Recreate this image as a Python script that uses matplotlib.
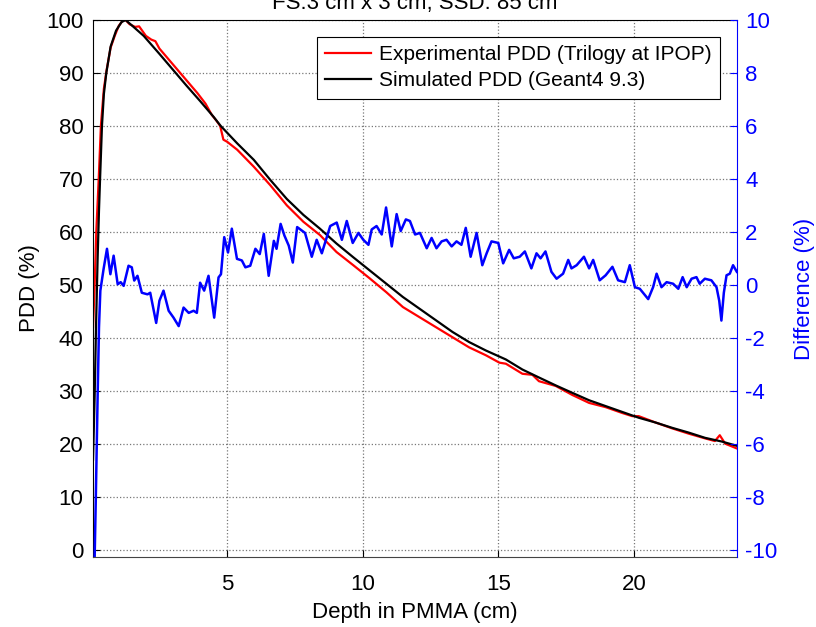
import matplotlib
matplotlib.use("Agg")
from matplotlib import pyplot as plt

plt.rcParams['font.family'] = ['Liberation Sans', 'DejaVu Sans']
plt.rcParams['axes.unicode_minus'] = False

# simulated PDD (Geant4)
sim_depth = [0.05, 0.11, 0.16, 0.22, 0.27, 0.31, 0.38, 0.45, 0.54, 0.7, 0.9, 1.1, 1.25,
             1.5, 1.92, 2.5, 3.0, 3.5, 4.0, 4.5, 4.76, 5.37, 5.98, 6.59, 7.2, 7.81,
             8.42, 9.03, 9.65, 10.26, 10.87, 11.48, 12.09, 12.7, 13.31, 13.92, 14.54,
             15.28, 15.89, 16.5, 17.12, 17.73, 18.35, 18.96, 19.57, 20.18, 20.8,
             21.41, 22.02, 22.63, 23.25, 23.8]
sim_pdd = [17, 29, 42, 55, 64, 70, 80, 86, 90, 95, 98, 99.6, 100,
           98.9, 97.0, 93.6, 90.6, 87.6, 84.7, 81.7, 80.0, 76.7, 73.6, 69.8, 66.2, 63.2,
           60.6, 57.8, 55.2, 52.7, 50.2, 47.7, 45.5, 43.3, 41.1, 39.2, 37.6,
           35.9, 34.0, 32.5, 31.0, 29.6, 28.2, 27.1, 26.0, 24.9, 24.0,
           23.0, 22.1, 21.1, 20.4, 19.6]

# experimental PDD (Trilogy)
exp_depth = [0.05, 0.11, 0.17, 0.26, 0.34, 0.45, 0.55, 0.7, 0.85, 1.0, 1.15, 1.25,
             1.4, 1.6, 1.75, 2.0, 2.2, 2.35, 2.5, 2.8, 3.0, 3.3, 3.6, 3.9, 4.2, 4.43,
             4.6, 4.74, 4.86, 5.0, 5.37, 5.98, 6.59, 7.2, 7.81, 8.42, 9.03, 9.65, 10.26,
             10.87, 11.48, 12.09, 12.7, 13.31, 13.92, 14.54, 15.04, 15.28, 15.89,
             16.26, 16.5, 17.12, 17.73, 18.35, 18.96, 19.57, 19.94, 20.18, 20.8,
             21.41, 22.02, 22.63, 22.99, 23.17, 23.37, 23.8]
exp_pdd = [42, 50, 60, 70, 80, 87, 90.5, 94.8, 97, 98.9, 99.9, 100,
           99.2, 98.7, 98.8, 97.0, 96.3, 96.0, 94.6, 92.8, 91.6, 89.8, 88.0, 86.2, 84.2, 82.1,
           81.0, 80.0, 77.4, 77.0, 75.5, 72.3, 68.8, 65.0, 61.9, 59.4, 56.2, 53.7, 51.2,
           48.6, 45.8, 43.9, 42.0, 40.1, 38.2, 36.7, 35.3, 35.1, 33.2,
           33.0, 31.8, 30.9, 29.2, 27.7, 26.9, 25.8, 25.2, 25.2, 24.0,
           22.9, 21.9, 21.0, 20.5, 21.6, 20.0, 19.1]

# difference (%)
diff_depth = [0.07, 0.11, 0.15, 0.22, 0.27, 0.32, 0.44, 0.565, 0.69, 0.81, 0.96, 1.07,
              1.18, 1.36, 1.48, 1.57, 1.69, 1.85, 2.06, 2.16, 2.38, 2.5, 2.65, 2.84,
              3.02, 3.21, 3.39, 3.58, 3.76, 3.88, 4.0, 4.15, 4.31, 4.52, 4.68, 4.77,
              4.89, 5.03, 5.17, 5.36, 5.54, 5.67, 5.85, 6.04, 6.2, 6.35, 6.53, 6.72,
              6.82, 6.97, 7.11, 7.27, 7.42, 7.58, 7.87, 8.12, 8.3, 8.49, 8.8, 9.04,
              9.23, 9.41, 9.63, 9.84, 10.02, 10.21, 10.33, 10.51, 10.7, 10.86, 11.07,
              11.25, 11.4, 11.59, 11.74, 11.93, 12.11, 12.36, 12.54, 12.72, 12.91,
              13.09, 13.28, 13.46, 13.64, 13.8, 13.98, 14.2, 14.41, 14.57, 14.75,
              15.0, 15.18, 15.4, 15.57, 15.79, 15.98, 16.22, 16.41, 16.56, 16.74,
              16.96, 17.15, 17.39, 17.58, 17.7, 17.89, 18.16, 18.35, 18.5, 18.74,
              18.96, 19.21, 19.42, 19.67, 19.85, 20.04, 20.22, 20.53, 20.71, 20.84,
              21.02, 21.21, 21.45, 21.64, 21.8, 21.95, 22.13, 22.31, 22.43, 22.62,
              22.86, 23.05, 23.15, 23.23, 23.32, 23.42, 23.54, 23.66, 23.8]
diff_val = [-11.0, -10.3, -8.2, -4.2, -1.6, -0.22, 0.6, 1.36, 0.4, 1.1, 0.02, 0.1,
            -0.04, 0.72, 0.66, 0.16, 0.34, -0.3, -0.36, -0.3, -1.44, -0.6, -0.22, -0.98,
            -1.24, -1.56, -0.86, -1.06, -0.98, -1.06, 0.08, -0.22, 0.34, -1.24, 0.28, 0.4,
            1.8, 1.22, 2.12, 0.98, 0.92, 0.66, 0.72, 1.36, 1.16, 1.92, 0.34, 1.66,
            1.36, 2.3, 1.86, 1.48, 0.84, 2.18, 1.96, 1.06, 1.7, 1.19, 2.22, 2.35,
            1.7, 2.41, 1.58, 1.96, 1.7, 1.51, 2.09, 2.22, 1.9, 2.92, 1.45,
            2.67, 2.03, 2.47, 2.41, 1.9, 1.96, 1.38, 1.77, 1.38, 1.64,
            1.7, 1.45, 1.64, 1.51, 2.15, 1.06, 1.96, 0.74, 1.19, 1.64,
            1.58, 0.81, 1.32, 1.0, 1.06, 1.26, 0.62, 1.19, 1.0, 1.26,
            0.49, 0.23, 0.42, 0.94, 0.62, 0.74, 1.06, 0.62, 0.94, 0.17,
            0.36, 0.68, 0.17, 0.1, 0.74, -0.09, -0.15, -0.54, -0.09, 0.42,
            -0.09, 0.1, 0.04, -0.15, 0.29, -0.09, 0.23, 0.29, 0.04, 0.23,
            0.17, -0.09, -0.6, -1.35, -0.3, 0.36, 0.42, 0.74, 0.49]

fig = plt.figure(figsize=(8.16, 6.27), dpi=100)
ax = fig.add_axes([0.114, 0.1116, 0.789, 0.8565])
ax2 = ax.twinx()

ax.plot(exp_depth, exp_pdd, color='red', lw=1.6, label='Experimental PDD (Trilogy at IPOP)')
ax.plot(sim_depth, sim_pdd, color='black', lw=1.6, label='Simulated PDD (Geant4 9.3)')
ax2.plot(diff_depth, diff_val, color='blue', lw=1.8)

ax.set_xlim(0.05, 23.8)
ax.set_ylim(-1.4, 100)
ax2.set_ylim(-10.28, 10)
ax.set_xticks([5, 10, 15, 20])
ax.set_yticks(range(0, 101, 10))
ax2.set_yticks(range(-10, 11, 2))

ax.grid(True, linestyle=':', color='#777777', lw=0.9)
ax.tick_params(direction='in', labelsize=16, length=5, pad=7)
ax.tick_params(axis='x', pad=12)
ax2.tick_params(direction='in', labelsize=16, length=5, pad=6, colors='blue')

ax.spines['right'].set_visible(False)
for s in ['left', 'top', 'bottom']:
    ax2.spines[s].set_visible(False)
ax2.spines['right'].set_color('blue')
ax.spines['bottom'].set_color('#444444')

ax.set_xlabel('Depth in PMMA (cm)', fontsize=16, labelpad=5)
ax.set_ylabel('PDD (%)', fontsize=16, labelpad=4)
ax2.set_ylabel('Difference (%)', fontsize=16, color='blue', labelpad=12)
ax.set_title('FS:3 cm x 3 cm, SSD: 85 cm', fontsize=16, pad=8)

leg = ax.legend(loc='upper right', fontsize=15, fancybox=False, edgecolor='black',
                framealpha=1, handlelength=2.2, borderaxespad=0.8, handletextpad=0.4,
                borderpad=0.4, labelspacing=0.35)
leg.get_frame().set_linewidth(0.8)
leg.set_zorder(10)

fig.savefig('out.png', dpi=100)
